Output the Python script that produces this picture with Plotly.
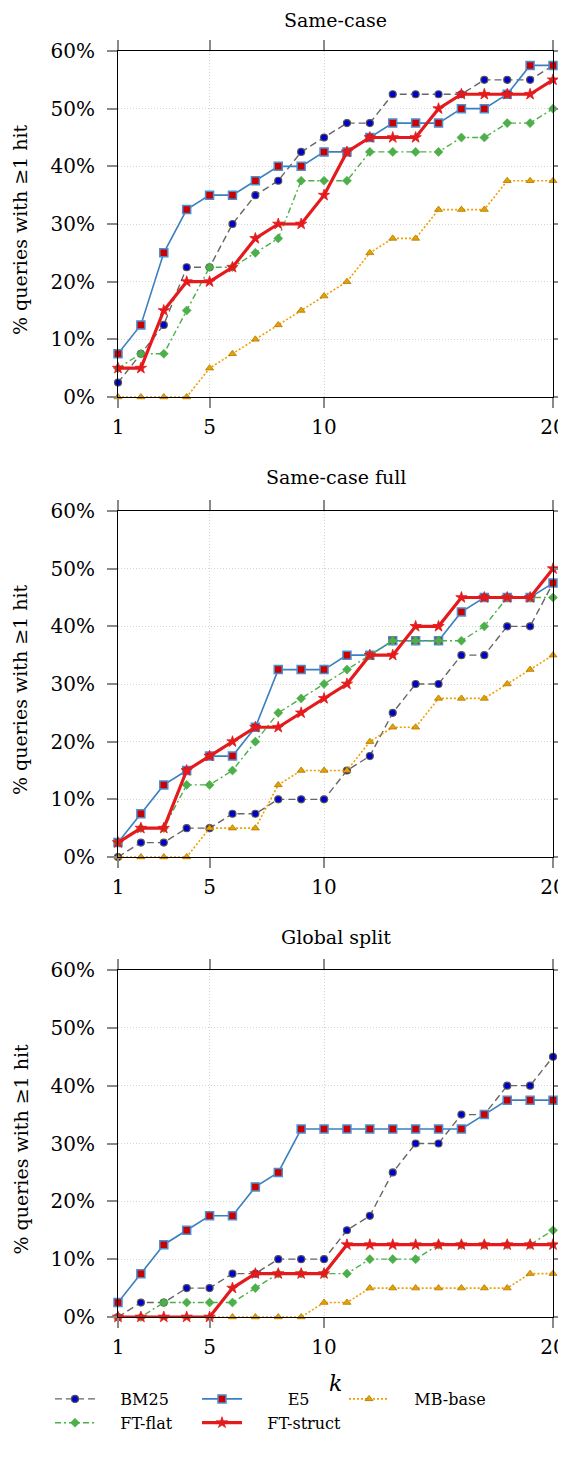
import plotly.graph_objects as go

k = list(range(1, 21))

panels = ["Same-case", "Same-case full", "Global split"]
series_names = ["BM25", "E5", "MB-base", "FT-flat", "FT-struct"]

# Same-case
sc_bm25 = [2.5, 7.5, 12.5, 22.5, 22.5, 30, 35, 37.5, 42.5, 45, 47.5, 47.5, 52.5, 52.5, 52.5, 52.5, 55, 55, 55, 57.5]
sc_e5 = [7.5, 12.5, 25, 32.5, 35, 35, 37.5, 40, 40, 42.5, 42.5, 45, 47.5, 47.5, 47.5, 50, 50, 52.5, 57.5, 57.5]
sc_mb = [0, 0, 0, 0, 5, 7.5, 10, 12.5, 15, 17.5, 20, 25, 27.5, 27.5, 32.5, 32.5, 32.5, 37.5, 37.5, 37.5]
sc_flat = [5, 7.5, 7.5, 15, 22.5, 22.5, 25, 27.5, 37.5, 37.5, 37.5, 42.5, 42.5, 42.5, 42.5, 45, 45, 47.5, 47.5, 50]
sc_struct = [5, 5, 15, 20, 20, 22.5, 27.5, 30, 30, 35, 42.5, 45, 45, 45, 50, 52.5, 52.5, 52.5, 52.5, 55]

# Same-case full
scf_bm25 = [0, 2.5, 2.5, 5, 5, 7.5, 7.5, 10, 10, 10, 15, 17.5, 25, 30, 30, 35, 35, 40, 40, 47.5]
scf_e5 = [2.5, 7.5, 12.5, 15, 17.5, 17.5, 22.5, 32.5, 32.5, 32.5, 35, 35, 37.5, 37.5, 37.5, 42.5, 45, 45, 45, 47.5]
scf_mb = [0, 0, 0, 0, 5, 5, 5, 12.5, 15, 15, 15, 20, 22.5, 22.5, 27.5, 27.5, 27.5, 30, 32.5, 35]
scf_flat = [2.5, 5, 5, 12.5, 12.5, 15, 20, 25, 27.5, 30, 32.5, 35, 37.5, 37.5, 37.5, 37.5, 40, 45, 45, 45]
scf_struct = [2.5, 5, 5, 15, 17.5, 20, 22.5, 22.5, 25, 27.5, 30, 35, 35, 40, 40, 45, 45, 45, 45, 50]

# Global split
gs_bm25 = [0, 2.5, 2.5, 5, 5, 7.5, 7.5, 10, 10, 10, 15, 17.5, 25, 30, 30, 35, 35, 40, 40, 45]
gs_e5 = [2.5, 7.5, 12.5, 15, 17.5, 17.5, 22.5, 25, 32.5, 32.5, 32.5, 32.5, 32.5, 32.5, 32.5, 32.5, 35, 37.5, 37.5, 37.5]
gs_mb = [0, 0, 0, 0, 0, 0, 0, 0, 0, 2.5, 2.5, 5, 5, 5, 5, 5, 5, 5, 7.5, 7.5]
gs_flat = [0, 0, 2.5, 2.5, 2.5, 2.5, 5, 7.5, 7.5, 7.5, 7.5, 10, 10, 10, 12.5, 12.5, 12.5, 12.5, 12.5, 15]
gs_struct = [0, 0, 0, 0, 0, 5, 7.5, 7.5, 7.5, 7.5, 12.5, 12.5, 12.5, 12.5, 12.5, 12.5, 12.5, 12.5, 12.5, 12.5]

data = [
    [sc_bm25, sc_e5, sc_mb, sc_flat, sc_struct],
    [scf_bm25, scf_e5, scf_mb, scf_flat, scf_struct],
    [gs_bm25, gs_e5, gs_mb, gs_flat, gs_struct],
]

x_ticks = [1, 5, 10, 20]
y_ticks = [0, 10, 20, 30, 40, 50, 60]

# page body has an 8px margin: figure drawn from screen (8, 8)
OFF = 8
W, H = 566 - OFF, 1435
SERIF = "DejaVu Serif"
NB = "\u00a0"
legend_pad = {"BM25": 4, "E5": 8, "MB-base": 4, "FT-flat": 4, "FT-struct": 4}

styles = {
    "BM25": dict(line=dict(color="#666666", width=1.4, dash="7px,4px"),
                 marker=dict(symbol="circle", size=7, color="#0000cc",
                             line=dict(color="#555555", width=1.2))),
    "E5": dict(line=dict(color="#3a80c0", width=1.6),
               marker=dict(symbol="square", size=8, color="#cc0000",
                           line=dict(color="#4a90d0", width=1.5))),
    "MB-base": dict(line=dict(color="#eea000", width=1.6, dash="2px,2px"),
                    marker=dict(symbol="triangle-up", size=7, color="#e8a000",
                                line=dict(color="#b07800", width=0.8))),
    "FT-flat": dict(line=dict(color="#4daf4a", width=1.4, dash="6px,3px,2px,3px"),
                    marker=dict(symbol="diamond", size=7, color="#4daf4a",
                                line=dict(color="#4daf4a", width=0.5))),
    "FT-struct": dict(line=dict(color="#e41a1c", width=3.2),
                      marker=dict(symbol="star", size=8.5, color="#e41a1c",
                                  line=dict(color="#e41a1c", width=0.8))),
}

def px(v):
    return v - OFF

# screen-pixel geometry of plot frames
x_left, x_right = px(118), px(553)
frames = [(px(51), px(397)), (px(511), px(857)), (px(970), px(1317))]
title_y = [None, px(477), px(937)]

fig = go.Figure()
for p, panel in enumerate(panels):
    ax = "" if p == 0 else str(p + 1)
    for s, name in enumerate(series_names):
        st = styles[name]
        fig.add_trace(go.Scatter(
            x=k, y=data[p][s], mode="lines+markers", name=NB * legend_pad[name] + name,
            line=st["line"], marker=st["marker"],
            xaxis="x" + ax, yaxis="y" + ax,
            showlegend=(p == 0), legendgroup=name, cliponaxis=False,
        ))

annotations = []
layout_axes = {}
for p, (top, bot) in enumerate(frames):
    ax = "" if p == 0 else str(p + 1)
    common = dict(showline=True, linecolor="black", linewidth=1, mirror="ticks",
                  ticks="outside", ticklen=10, tickcolor="#8a8a8a", tickwidth=1.5,
                  showgrid=True, gridcolor="#d4d4d4", griddash="1px,2px", gridwidth=1,
                  zeroline=False, automargin=False,
                  tickfont=dict(family=SERIF, size=20, color="black"))
    layout_axes["xaxis" + ax] = dict(
        common, domain=[x_left / W, x_right / W], range=[1, 20],
        tickvals=x_ticks, ticktext=[str(v) for v in x_ticks],
        anchor="y" + ax, ticklabelstandoff=2)
    layout_axes["yaxis" + ax] = dict(
        common, domain=[1 - bot / H, 1 - top / H], range=[0, 60],
        tickvals=y_ticks, ticktext=[f"{v}%" for v in y_ticks],
        anchor="x" + ax, ticklabelstandoff=8)
    if title_y[p] is None:
        ty, tanchor = 1.0, "top"
    else:
        ty, tanchor = 1 - title_y[p] / H, "middle"
    annotations.append(dict(
        text=panels[p], x=(x_left + x_right) / 2 / W, y=ty,
        xref="paper", yref="paper", showarrow=False, xanchor="center", yanchor=tanchor,
        borderpad=0, font=dict(family=SERIF, size=19, color="black")))
    annotations.append(dict(
        text="% queries with ≥1 hit", x=px(20) / W, y=1 - ((top + bot) / 2 + 6) / H,
        xref="paper", yref="paper", showarrow=False, textangle=-90,
        xanchor="center", yanchor="middle",
        font=dict(family=SERIF, size=19, color="black")))

annotations.append(dict(
    text="<i>k</i>", x=(x_left + x_right) / 2 / W, y=1 - px(1383) / H,
    xref="paper", yref="paper", showarrow=False, xanchor="center", yanchor="middle",
    font=dict(family=SERIF, size=22, color="black")))

fig.update_layout(
    width=W, height=H, margin=dict(l=0, r=0, t=0, b=0, autoexpand=False),
    paper_bgcolor="white", plot_bgcolor="white",
    annotations=annotations,
    legend=dict(orientation="h", x=px(50) / W, y=1 - px(1382) / H, xanchor="left", yanchor="top",
                entrywidth=92, entrywidthmode="pixels", traceorder="normal",
                font=dict(family=SERIF, size=16, color="black"),
                bgcolor="rgba(0,0,0,0)", itemwidth=40),
    **layout_axes,
)

fig.write_html("out.html")
